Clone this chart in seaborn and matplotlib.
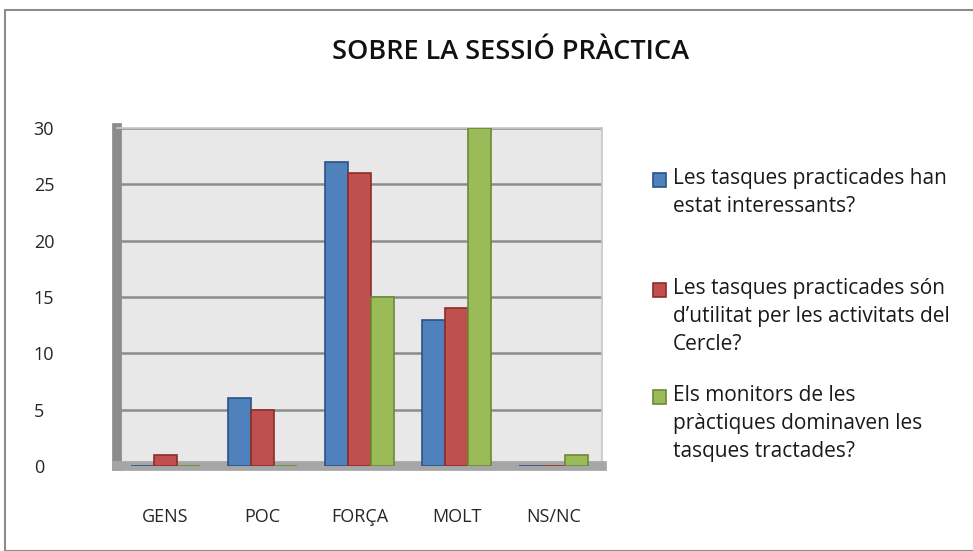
import matplotlib
matplotlib.use("Agg")
import matplotlib.pyplot as plt
import pandas as pd
import seaborn as sns
from matplotlib.patches import Rectangle

categories = ["GENS", "POC", "FORÇA", "MOLT", "NS/NC"]
series_names = [
    "Les tasques practicades han\nestat interessants?",
    "Les tasques practicades són\nd\u2019utilitat per les activitats del\nCercle?",
    "Els monitors de les\npràctiques dominaven les\ntasques tractades?",
]
interessants = [0, 6, 27, 13, 0]
utilitat = [1, 5, 26, 14, 0]
monitors = [0, 0, 15, 30, 1]
yticks = [0, 5, 10, 15, 20, 25, 30]

colors = ["#4f81bd", "#c0504d", "#9bbb59"]
edges = ["#2c5286", "#8c2d2a", "#6a8a36"]

df = pd.DataFrame({
    "cat": categories * 3,
    "serie": [series_names[0]] * 5 + [series_names[1]] * 5 + [series_names[2]] * 5,
    "val": interessants + utilitat + monitors,
})

sns.set_theme(style="white")
plt.rcParams["font.family"] = ["Open Sans", "DejaVu Sans"]

fig = plt.figure(figsize=(9.73, 5.51), dpi=100)
fig.patches.append(Rectangle((5 / 973, 0), 1, 1 - 10 / 551, transform=fig.transFigure,
                             fill=False, edgecolor="#8c8c8c", linewidth=1.5))
ax = fig.add_axes([117 / 973, 1 - 466 / 551, (602 - 117) / 973, (466 - 128) / 551])
ax.set_facecolor("#e8e8e8")

sns.barplot(data=df, x="cat", y="val", hue="serie", palette=colors, ax=ax,
            width=0.72, gap=0.0, saturation=1, legend=False, zorder=3)
for cont, ec in zip(ax.containers, edges):
    for bar in cont:
        bar.set_edgecolor(ec)
        bar.set_linewidth(1.2)

ax.set_ylim(0, 30)
ax.set_yticks(yticks)
ax.yaxis.grid(True, color="#8c8c8c", linewidth=1.8, zorder=0)
ax.set_axisbelow(True)
ax.set_xlabel("")
ax.set_ylabel("")
for s in ["top", "right"]:
    ax.spines[s].set_color("#c8c8c8")
ax.spines["left"].set_color("#8c8c8c")
ax.spines["left"].set_linewidth(7)
ax.spines["bottom"].set_color("#a6a6a6")
ax.spines["bottom"].set_linewidth(7)
ax.tick_params(axis="y", labelsize=13, pad=60, length=0)
ax.tick_params(axis="x", labelsize=13, pad=30, length=0)
for lbl in ax.get_yticklabels():
    lbl.set_horizontalalignment("left")

# legend: square aligned with first line of each label
legend_y = [180, 290, 397]
for name, col, ec, y in zip(series_names, colors, edges, legend_y):
    fig.patches.append(Rectangle((653 / 973, 1 - (y + 7) / 551), 13 / 973, 14 / 551,
                                 transform=fig.transFigure, facecolor=col,
                                 edgecolor=ec, linewidth=1.2))
    fig.text(673 / 973, 1 - (y - 12) / 551, name, ha="left", va="top",
             fontsize=15, linespacing=1.45, color="#1a1a1a")

fig.text(510 / 973, 1 - 52 / 551, "SOBRE LA SESSIÓ PRÀCTICA", ha="center", va="center",
         fontsize=19.5, fontweight="semibold", color="#111111")

fig.savefig("out.png", dpi=100)
